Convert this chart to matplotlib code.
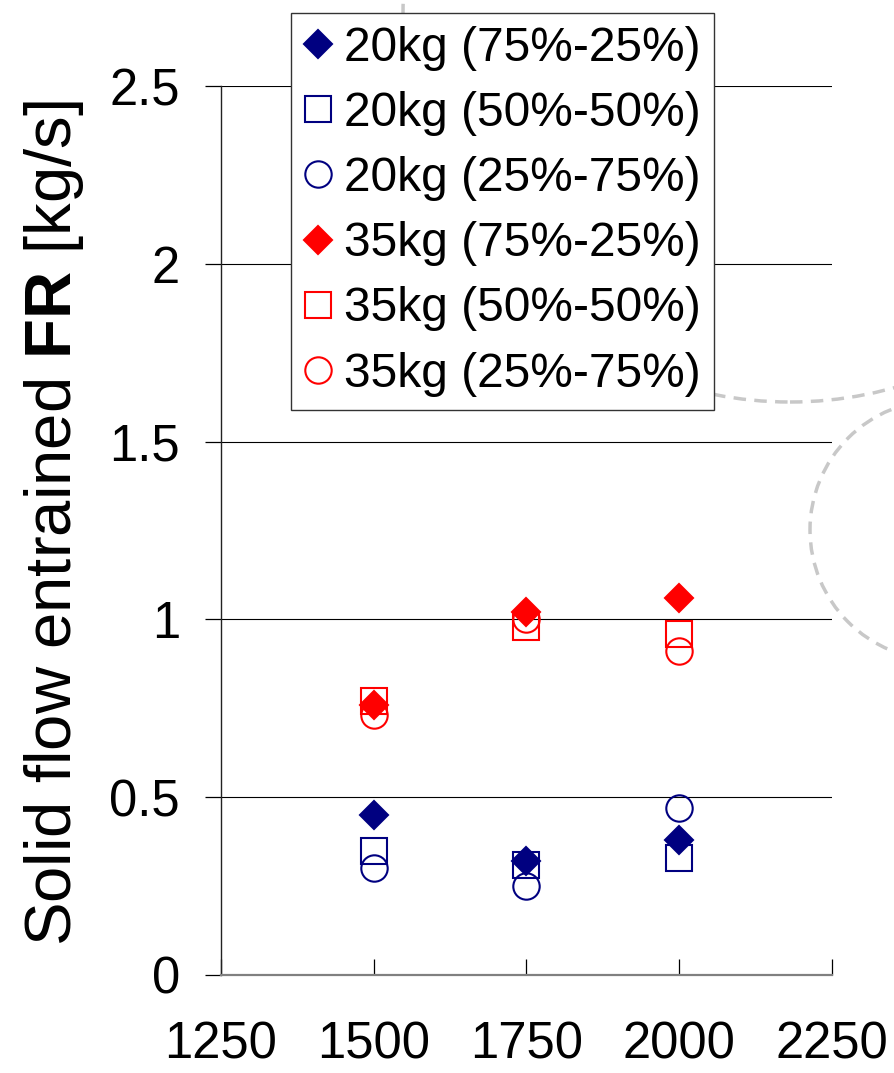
import numpy as np
import matplotlib
matplotlib.use("Agg")
import matplotlib.pyplot as plt
from matplotlib.patches import Ellipse

plt.rcParams["font.family"] = ["Liberation Sans", "DejaVu Sans"]
plt.rcParams["mathtext.fontset"] = "custom"
plt.rcParams["mathtext.rm"] = "Liberation Sans"
plt.rcParams["mathtext.bf"] = "Liberation Sans:bold"

# air velocity / flow setting on x, entrained solid flow on y
x_vals = [1500, 1750, 2000]
fr_20kg_75_25 = [0.45, 0.32, 0.38]
fr_20kg_50_50 = [0.35, 0.31, 0.33]
fr_20kg_25_75 = [0.30, 0.25, 0.47]
fr_35kg_75_25 = [0.76, 1.02, 1.06]
fr_35kg_50_50 = [0.77, 0.98, 0.96]
fr_35kg_25_75 = [0.73, 1.00, 0.91]

series_labels = ["20kg (75%-25%)", "20kg (50%-50%)", "20kg (25%-75%)",
                 "35kg (75%-25%)", "35kg (50%-50%)", "35kg (25%-75%)"]
x_ticks = [1250, 1500, 1750, 2000, 2250]
y_ticks = [0, 0.5, 1, 1.5, 2, 2.5]

navy = "#000080"
red = "#ff0000"

W, H = 895, 1073
fig = plt.figure(figsize=(W / 100, H / 100), dpi=100)
ax = fig.add_axes([221 / W, 1 - 975 / H, (832 - 221) / W, (975 - 86) / H])

series = [
    (fr_20kg_75_25, "D", navy, True),
    (fr_20kg_50_50, "s", navy, False),
    (fr_20kg_25_75, "o", navy, False),
    (fr_35kg_75_25, "D", red, True),
    (fr_35kg_50_50, "s", red, False),
    (fr_35kg_25_75, "o", red, False),
]
for (vals, mk, col, filled), lab in zip(series, series_labels):
    ms = 14.5 if mk == "D" else 19
    ax.plot(x_vals, vals, linestyle="none", marker=mk, ms=ms,
            mfc=col if filled else "none", mec=col, mew=1.5,
            label=lab, zorder=3 if filled else 4, clip_on=False)

ax.set_xlim(1250, 2250)
ax.set_ylim(0, 2.5)
ax.set_xticks(x_ticks)
ax.set_yticks(y_ticks)
ax.set_yticklabels(["0", "0.5", "1", "1.5", "2", "2.5"])
ax.yaxis.grid(True, color="black", lw=0.8)
ax.set_axisbelow(True)
ax.set_facecolor("none")

for s in ["top", "right"]:
    ax.spines[s].set_visible(False)
ax.spines["left"].set_color("#222222")
ax.spines["left"].set_linewidth(1.0)
ax.spines["bottom"].set_color("#808080")
ax.spines["bottom"].set_linewidth(1.6)

ax.tick_params(axis="y", direction="out", length=11.5, width=0.9,
               labelsize=36.5, pad=18, colors="black")
ax.tick_params(axis="x", direction="in", length=11.5, width=0.9,
               labelsize=36.5, pad=33, colors="black")
ax.yaxis.get_major_ticks()[0].tick1line.set_color("#808080")

ax.set_ylabel(r"Solid flow entrained $\mathbf{FR}$ [kg/s]", fontsize=47)
ax.yaxis.set_label_coords(-0.221, 0.509)

# dashed callout circles left over from the original slide
for cx, cy, r in [(790, 15, 387), (940, 530, 130)]:
    ax.add_patch(Ellipse((cx / W, 1 - cy / H), 2 * r / W, 2 * r / H,
                         transform=fig.transFigure, fill=False,
                         edgecolor="#c8c8c8", lw=2.5,
                         linestyle=(0, (3.6, 2.4)), clip_on=False, zorder=1))

leg = ax.legend(loc="upper left",
                bbox_to_anchor=(291 / W, 1 - 405 / H, 423 / W, 392 / H),
                bbox_transform=fig.transFigure, mode="expand",
                fontsize=34.5, frameon=True,
                fancybox=False, framealpha=1, edgecolor="#333333",
                borderpad=0.27, labelspacing=0.42, handlelength=0.58,
                handletextpad=0.25, borderaxespad=0, numpoints=1)
leg.get_frame().set_linewidth(1.0)
leg.set_zorder(10)

fig.savefig("out.png", dpi=100)
